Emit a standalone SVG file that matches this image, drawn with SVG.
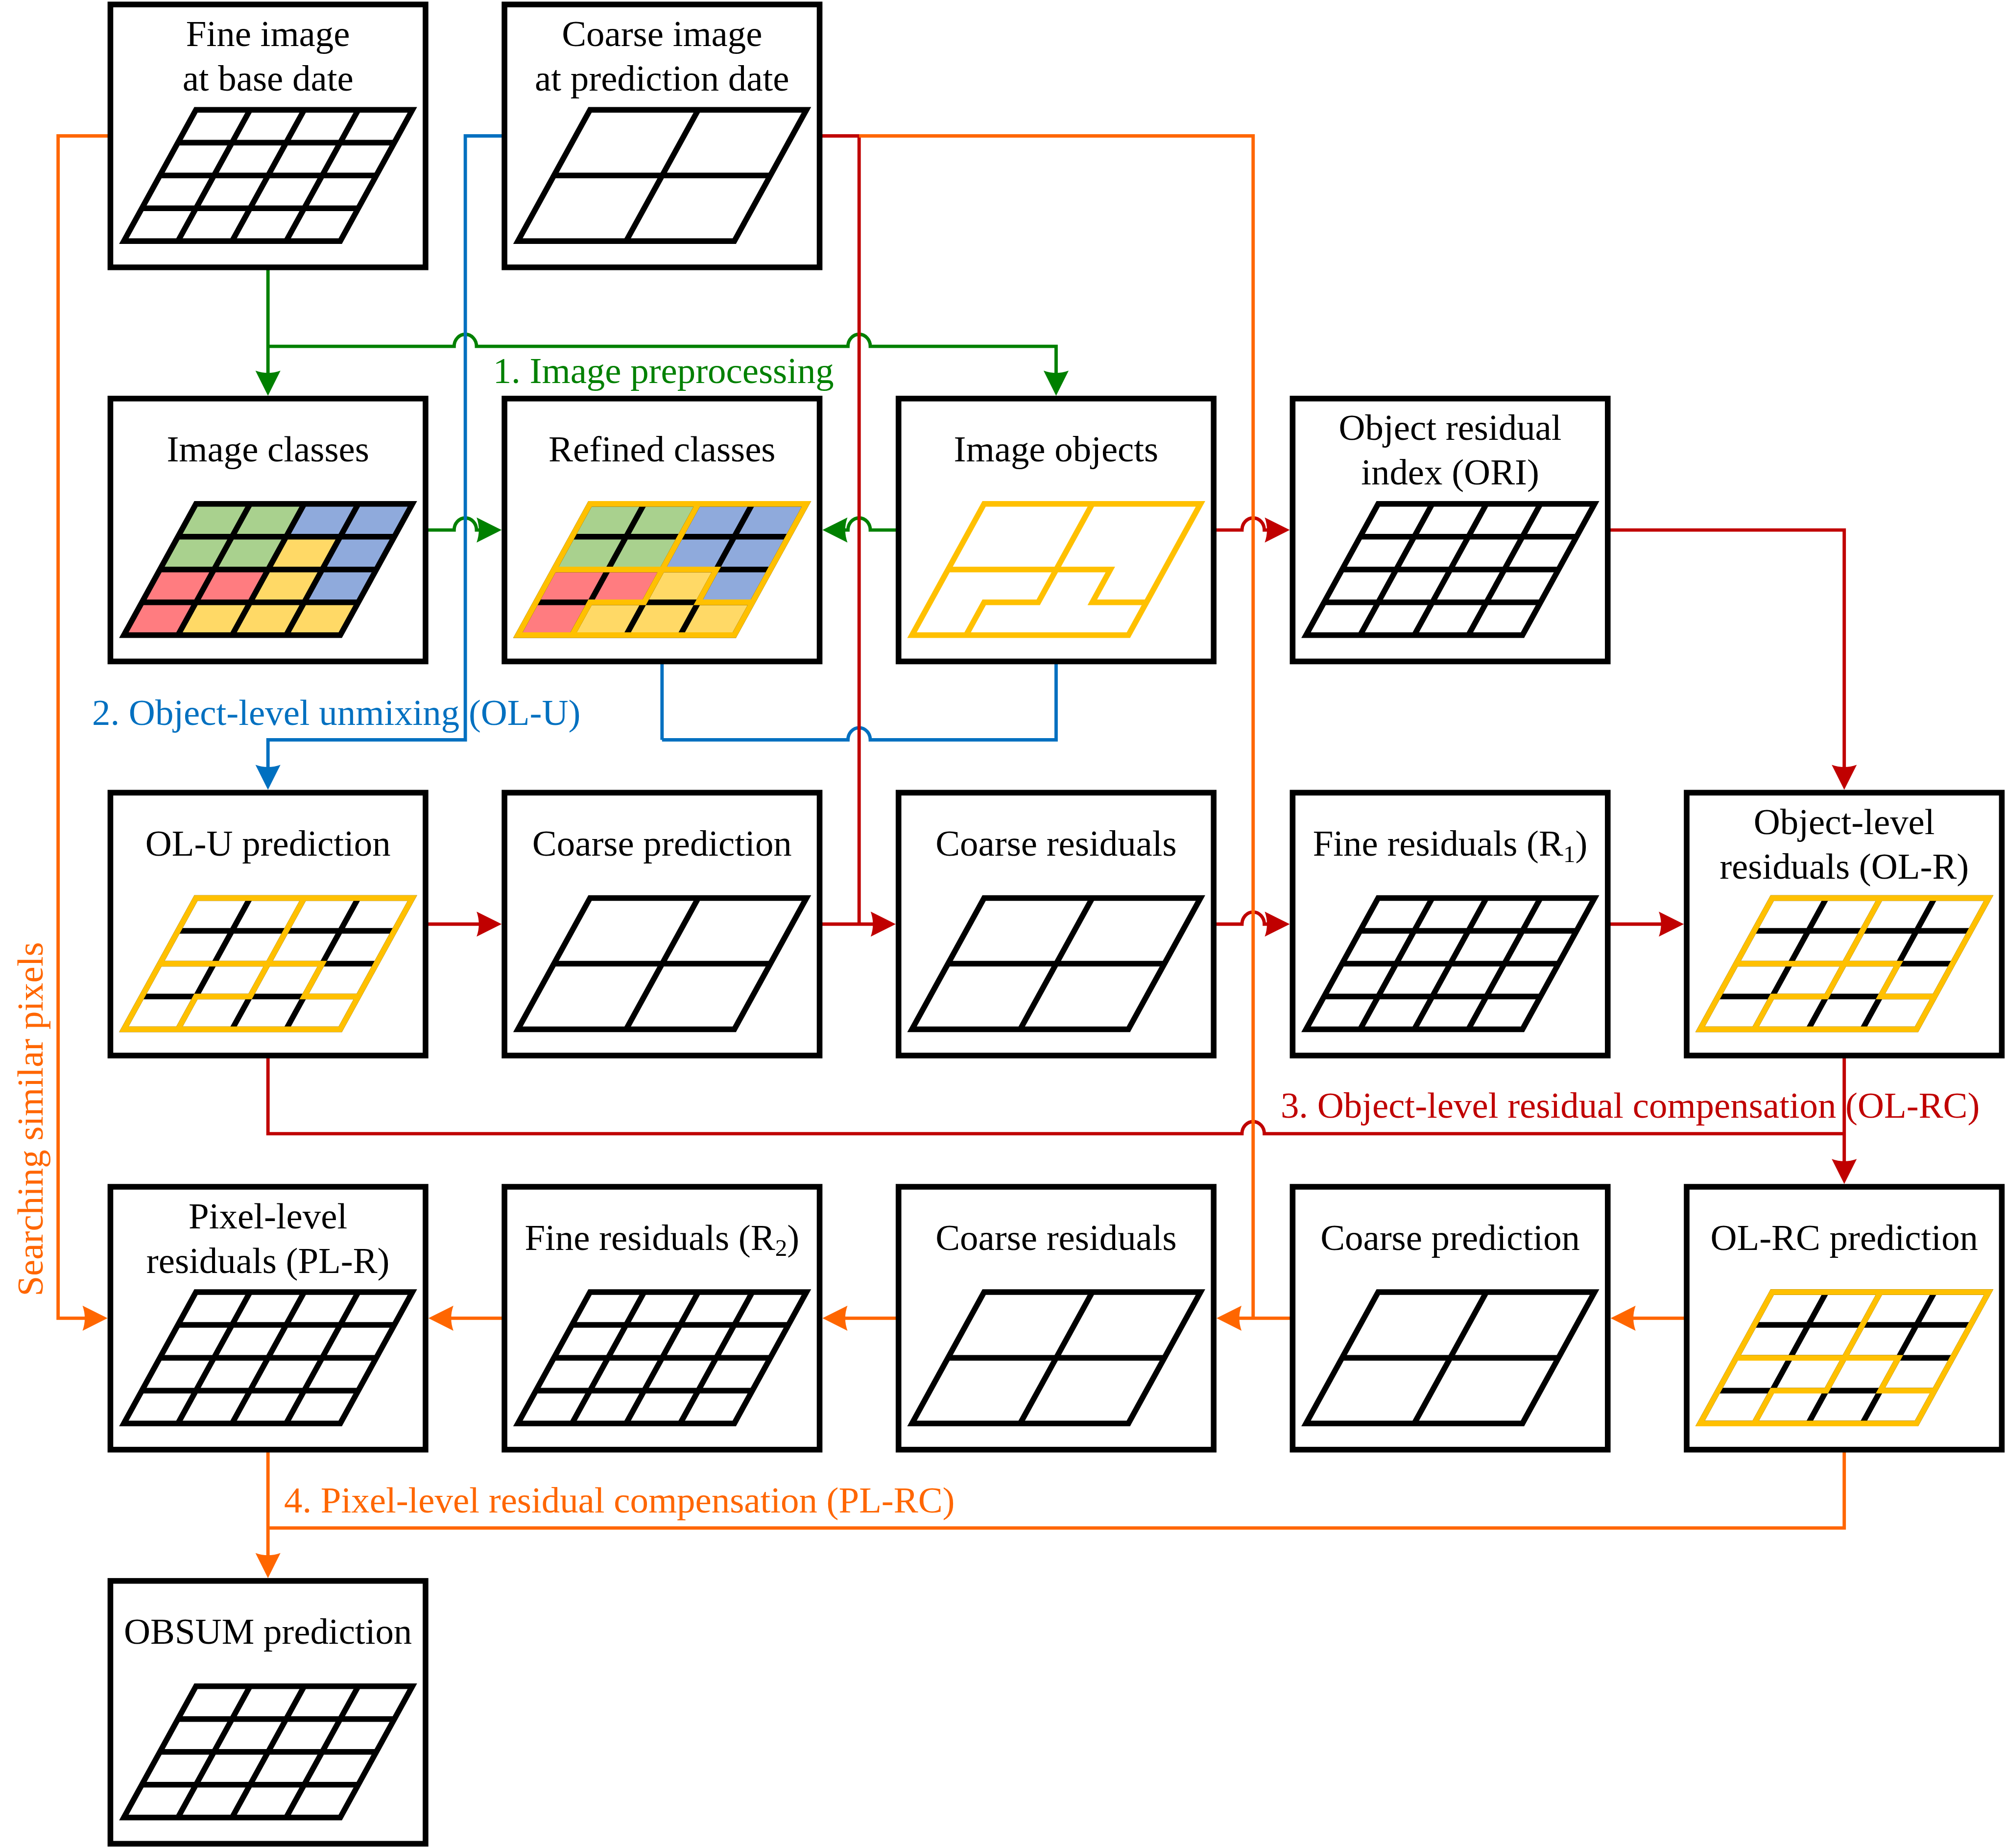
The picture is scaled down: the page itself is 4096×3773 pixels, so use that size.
<svg xmlns="http://www.w3.org/2000/svg" xmlns:xlink="http://www.w3.org/1999/xlink" width="4096" height="3773" viewBox="0 0 4096 3773">
<style>
.box{fill:#fff;stroke:#000;stroke-width:12.7}
.gl{fill:none;stroke:#000;stroke-width:12.6;stroke-linejoin:miter}
.ol{fill:none;stroke:#FFC000;stroke-width:12.6;stroke-linejoin:miter}
.lbl{font-family:"Liberation Serif","Times New Roman",serif;font-size:82px;fill:#000;text-anchor:middle}
.step{font-family:"Liberation Serif","Times New Roman",serif;font-size:82px}
.c{fill:none;stroke-width:7.5;stroke-linejoin:miter}
.g{stroke:#008000}.b{stroke:#0070C0}.r{stroke:#C00000}.o{stroke:#FF6600}
</style>
<defs>
<marker id="aG" markerUnits="userSpaceOnUse" orient="auto" viewBox="-60 -40 110 80" markerWidth="110" markerHeight="80" refX="0" refY="0"><path d="M40,0 L-16,-28 Q-6,0 -16,28 Z" fill="#008000"/></marker>
<marker id="aB" markerUnits="userSpaceOnUse" orient="auto" viewBox="-60 -40 110 80" markerWidth="110" markerHeight="80" refX="0" refY="0"><path d="M40,0 L-16,-28 Q-6,0 -16,28 Z" fill="#0070C0"/></marker>
<marker id="aR" markerUnits="userSpaceOnUse" orient="auto" viewBox="-60 -40 110 80" markerWidth="110" markerHeight="80" refX="0" refY="0"><path d="M40,0 L-16,-28 Q-6,0 -16,28 Z" fill="#C00000"/></marker>
<marker id="aO" markerUnits="userSpaceOnUse" orient="auto" viewBox="-60 -40 110 80" markerWidth="110" markerHeight="80" refX="0" refY="0"><path d="M40,0 L-16,-28 Q-6,0 -16,28 Z" fill="#FF6600"/></marker>
<path id="outer" d="M191.4,235.6 L675.5,235.6 L514.2,529.3 L30.1,529.3 Z"/>
<g id="gridFine">
<path class="gl" d="M151.1,309 L635.2,309 M110.8,382.5 L594.9,382.5 M70.4,455.9 L554.5,455.9 M312.4,235.6 L151.1,529.3 M433.5,235.6 L272.2,529.3 M554.5,235.6 L393.2,529.3"/>
<use xlink:href="#outer" class="gl"/>
</g>
<g id="gridCoarse">
<path class="gl" d="M110.8,382.5 L594.9,382.5 M433.5,235.6 L272.2,529.3"/>
<use xlink:href="#outer" class="gl"/>
</g>
<g id="objLines">
<path class="ol" d="M110.8,382.5 L473.8,382.5 L433.5,455.9 L554.5,455.9 M433.5,235.6 L352.8,382.5 L312.5,455.9 L191.5,455.9 L151.1,529.3"/>
<use xlink:href="#outer" class="ol"/>
</g>
<g id="fillsClasses">
<path fill="#A9D18E" d="M191.4,235.6 L433.5,235.6 L352.8,382.5 L110.8,382.5 Z"/>
<path fill="#FF7C80" d="M110.8,382.5 L352.8,382.5 L312.5,455.9 L191.5,455.9 L151.1,529.3 L30.1,529.3 Z"/>
<path fill="#8FAADC" d="M433.5,235.6 L675.5,235.6 L554.5,455.9 L433.5,455.9 L514.2,309 L393.1,309 Z"/>
<path fill="#FFD966" d="M393.1,309 L514.2,309 L433.5,455.9 L554.5,455.9 L514.2,529.3 L151.1,529.3 L191.5,455.9 L312.5,455.9 Z"/>
</g>
<g id="fillsRefined">
<path fill="#A9D18E" d="M191.4,235.6 L433.5,235.6 L352.8,382.5 L110.8,382.5 Z"/>
<path fill="#FF7C80" d="M110.8,382.5 L352.8,382.5 L312.5,455.9 L191.5,455.9 L151.1,529.3 L30.1,529.3 Z"/>
<path fill="#8FAADC" d="M433.5,235.6 L675.5,235.6 L554.5,455.9 L433.5,455.9 L473.8,382.5 L352.8,382.5 Z"/>
<path fill="#FFD966" d="M352.8,382.5 L473.8,382.5 L433.5,455.9 L554.5,455.9 L514.2,529.3 L151.1,529.3 L191.5,455.9 L312.5,455.9 Z"/>
</g>
</defs>
<rect width="4096" height="3773" fill="#fff"/>
<g transform="scale(0.9127)">
<g id="connectors">
<path class="c g" d="M599.5,598 V845.25" marker-end="url(#aG)"/>
<path class="c g" d="M599.5,774.8 H1016 A25,27 0 0 1 1066,774.8 H1897 A25,27 0 0 1 1947,774.8 H2362.7 V845.25" marker-end="url(#aG)"/>
<path class="c g" d="M952,1185.6 H1016 A25,27 0 0 1 1066,1185.6 H1082.25" marker-end="url(#aG)"/>
<path class="c g" d="M2010.2,1185.6 H1947 A25,27 0 0 0 1897,1185.6 H1879.95" marker-end="url(#aG)"/>
<path class="c b" d="M1128.6,304 H1041 V1655 H599.5 V1726.85" marker-end="url(#aB)"/>
<path class="c b" d="M1481.1,1479.6 V1655"/>
<path class="c b" d="M2362.7,1479.6 V1655 H1947 A25,27 0 0 0 1897,1655 H1481.1"/>
<path class="c r" d="M1833.6,304 H1922 V2067.2"/>
<path class="c r" d="M1833.6,2067.2 H1963.85" marker-end="url(#aR)"/>
<path class="c r" d="M2715.2,1185.6 H2778.5 A25,27 0 0 1 2828.5,1185.6 H2845.45" marker-end="url(#aR)"/>
<path class="c r" d="M3596.8,1185.6 H4125.9 V1726.85" marker-end="url(#aR)"/>
<path class="c r" d="M952,2067.2 H1082.25" marker-end="url(#aR)"/>
<path class="c r" d="M2715.2,2067.2 H2778.5 A25,27 0 0 1 2828.5,2067.2 H2845.45" marker-end="url(#aR)"/>
<path class="c r" d="M3596.8,2067.2 H3727.05" marker-end="url(#aR)"/>
<path class="c r" d="M599.5,2361.2 V2536 H2778.5 A25,27 0 0 1 2828.5,2536 H4125.9"/>
<path class="c r" d="M4125.9,2361.2 V2608.45" marker-end="url(#aR)"/>
<path class="c o" d="M247,304 H130 V2948.8 H200.65" marker-end="url(#aO)"/>
<path class="c o" d="M1922,304 H2803.5 V2948.8"/>
<path class="c o" d="M3773.4,2948.8 H3643.15" marker-end="url(#aO)"/>
<path class="c o" d="M2891.8,2948.8 H2761.55" marker-end="url(#aO)"/>
<path class="c o" d="M2010.2,2948.8 H1879.95" marker-end="url(#aO)"/>
<path class="c o" d="M1128.6,2948.8 H998.35" marker-end="url(#aO)"/>
<path class="c o" d="M599.5,3242.8 V3490.05" marker-end="url(#aO)"/>
<path class="c o" d="M4125.9,3242.8 V3418 H599.5"/>
</g>
<g id="step-labels">
<text class="step" x="1103" y="856.7" fill="#008000">1. Image preprocessing</text>
<text class="step" x="206" y="1621.7" fill="#0070C0">2. Object-level unmixing (OL-U)</text>
<text class="step" x="2865" y="2500.8" fill="#C00000">3. Object-level residual compensation (OL-RC)</text>
<text class="step" x="635.5" y="3383.7" fill="#FF6600">4. Pixel-level residual compensation (PL-RC)</text>
<text class="step" fill="#FF6600" text-anchor="middle" transform="translate(95,2503.5) rotate(-90)">Searching similar pixels</text>
</g>
<g id="n-fine-base" transform="translate(247,10)">
<rect class="box" width="705" height="588"/>
<text class="lbl" x="352.5" y="92.8">Fine image<tspan x="352.5" y="192.5">at base date</tspan></text>
<use xlink:href="#gridFine"/>
</g>
<g id="n-coarse-pred-date" transform="translate(1128.6,10)">
<rect class="box" width="705" height="588"/>
<text class="lbl" x="352.5" y="92.8">Coarse image<tspan x="352.5" y="192.5">at prediction date</tspan></text>
<use xlink:href="#gridCoarse"/>
</g>
<g id="n-image-classes" transform="translate(247,891.6)">
<rect class="box" width="705" height="588"/>
<text class="lbl" x="352.5" y="141">Image classes</text>
<use xlink:href="#fillsClasses"/>
<use xlink:href="#gridFine"/>
</g>
<g id="n-refined-classes" transform="translate(1128.6,891.6)">
<rect class="box" width="705" height="588"/>
<text class="lbl" x="352.5" y="141">Refined classes</text>
<use xlink:href="#fillsRefined"/>
<use xlink:href="#gridFine"/>
<use xlink:href="#objLines"/>
</g>
<g id="n-image-objects" transform="translate(2010.2,891.6)">
<rect class="box" width="705" height="588"/>
<text class="lbl" x="352.5" y="141">Image objects</text>
<use xlink:href="#objLines"/>
</g>
<g id="n-ori" transform="translate(2891.8,891.6)">
<rect class="box" width="705" height="588"/>
<text class="lbl" x="352.5" y="92.8">Object residual<tspan x="352.5" y="192.5">index (ORI)</tspan></text>
<use xlink:href="#gridFine"/>
</g>
<g id="n-olu-pred" transform="translate(247,1773.2)">
<rect class="box" width="705" height="588"/>
<text class="lbl" x="352.5" y="141">OL-U prediction</text>
<use xlink:href="#gridFine"/>
<use xlink:href="#objLines"/>
</g>
<g id="n-coarse-pred-1" transform="translate(1128.6,1773.2)">
<rect class="box" width="705" height="588"/>
<text class="lbl" x="352.5" y="141">Coarse prediction</text>
<use xlink:href="#gridCoarse"/>
</g>
<g id="n-coarse-res-1" transform="translate(2010.2,1773.2)">
<rect class="box" width="705" height="588"/>
<text class="lbl" x="352.5" y="141">Coarse residuals</text>
<use xlink:href="#gridCoarse"/>
</g>
<g id="n-fine-res-r1" transform="translate(2891.8,1773.2)">
<rect class="box" width="705" height="588"/>
<text class="lbl" x="352.5" y="141">Fine residuals (R<tspan font-size="54" dy="14">1</tspan><tspan dy="-14">)</tspan></text>
<use xlink:href="#gridFine"/>
</g>
<g id="n-ol-r" transform="translate(3773.4,1773.2)">
<rect class="box" width="705" height="588"/>
<text class="lbl" x="352.5" y="92.8">Object-level<tspan x="352.5" y="192.5">residuals (OL-R)</tspan></text>
<use xlink:href="#gridFine"/>
<use xlink:href="#objLines"/>
</g>
<g id="n-pl-r" transform="translate(247,2654.8)">
<rect class="box" width="705" height="588"/>
<text class="lbl" x="352.5" y="92.8">Pixel-level<tspan x="352.5" y="192.5">residuals (PL-R)</tspan></text>
<use xlink:href="#gridFine"/>
</g>
<g id="n-fine-res-r2" transform="translate(1128.6,2654.8)">
<rect class="box" width="705" height="588"/>
<text class="lbl" x="352.5" y="141">Fine residuals (R<tspan font-size="54" dy="14">2</tspan><tspan dy="-14">)</tspan></text>
<use xlink:href="#gridFine"/>
</g>
<g id="n-coarse-res-2" transform="translate(2010.2,2654.8)">
<rect class="box" width="705" height="588"/>
<text class="lbl" x="352.5" y="141">Coarse residuals</text>
<use xlink:href="#gridCoarse"/>
</g>
<g id="n-coarse-pred-2" transform="translate(2891.8,2654.8)">
<rect class="box" width="705" height="588"/>
<text class="lbl" x="352.5" y="141">Coarse prediction</text>
<use xlink:href="#gridCoarse"/>
</g>
<g id="n-olrc-pred" transform="translate(3773.4,2654.8)">
<rect class="box" width="705" height="588"/>
<text class="lbl" x="352.5" y="141">OL-RC prediction</text>
<use xlink:href="#gridFine"/>
<use xlink:href="#objLines"/>
</g>
<g id="n-obsum-pred" transform="translate(247,3536.4)">
<rect class="box" width="705" height="588"/>
<text class="lbl" x="352.5" y="141">OBSUM prediction</text>
<use xlink:href="#gridFine"/>
</g>
</g>
</svg>
